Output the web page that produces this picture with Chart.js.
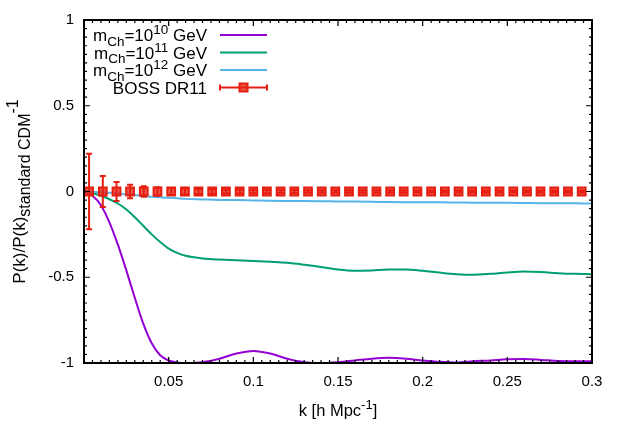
<!DOCTYPE html>
<html>
<head>
<meta charset="utf-8">
<script src="https://cdn.jsdelivr.net/npm/chart.js@4.4.0/dist/chart.umd.min.js"></script>
<style>
  html, body { margin: 0; padding: 0; background: #fff; }
  #wrap { width: 623px; height: 436px; }
</style>
</head>
<body>
<div id="wrap"><canvas id="grafico" width="623" height="436"></canvas></div>
<script>
// grade de k dos modelos (h/Mpc)
const kModelo = [0.001, 0.005, 0.01, 0.015, 0.02, 0.025, 0.03, 0.035, 0.04, 0.045, 0.05, 0.055, 0.06, 0.07, 0.08, 0.09, 0.1, 0.11, 0.12, 0.13, 0.14, 0.15, 0.16, 0.17, 0.18, 0.19, 0.2, 0.21, 0.22, 0.23, 0.24, 0.25, 0.26, 0.27, 0.28, 0.29, 0.3];
const mCh10 = [-0.005, -0.025, -0.08, -0.18, -0.31, -0.46, -0.62, -0.77, -0.885, -0.955, -0.985, -0.997, -1.0, -0.995, -0.975, -0.945, -0.93, -0.945, -0.975, -0.995, -1.0, -0.995, -0.985, -0.975, -0.97, -0.975, -0.985, -0.993, -0.997, -0.99, -0.985, -0.978, -0.977, -0.982, -0.988, -0.99, -0.99];
const mCh11 = [-0.003, -0.01, -0.025, -0.045, -0.07, -0.105, -0.15, -0.2, -0.25, -0.295, -0.333, -0.358, -0.375, -0.39, -0.397, -0.401, -0.405, -0.41, -0.416, -0.427, -0.44, -0.455, -0.462, -0.46, -0.455, -0.455, -0.462, -0.473, -0.482, -0.485, -0.48, -0.472, -0.467, -0.47, -0.476, -0.48, -0.482];
const mCh12 = [0, -0.002, -0.005, -0.008, -0.012, -0.017, -0.021, -0.026, -0.03, -0.034, -0.037, -0.04, -0.043, -0.046, -0.049, -0.05, -0.052, -0.054, -0.055, -0.056, -0.057, -0.058, -0.059, -0.06, -0.061, -0.062, -0.063, -0.063, -0.064, -0.065, -0.066, -0.066, -0.067, -0.068, -0.068, -0.069, -0.07];

// pontos BOSS DR11
const kBoss = [0.003, 0.0111, 0.0192, 0.0272, 0.0353, 0.0434, 0.0515, 0.0596, 0.0676, 0.0757, 0.0838, 0.0919, 0.1, 0.108, 0.1161, 0.1242, 0.1323, 0.1404, 0.1484, 0.1565, 0.1646, 0.1727, 0.1808, 0.1888, 0.1969, 0.205, 0.2131, 0.2212, 0.2292, 0.2373, 0.2454, 0.2535, 0.2616, 0.2696, 0.2777, 0.2858, 0.2939];
const pBoss = [0, 0, 0, 0, 0, 0, 0, 0, 0, 0, 0, 0, 0, 0, 0, 0, 0, 0, 0, 0, 0, 0, 0, 0, 0, 0, 0, 0, 0, 0, 0, 0, 0, 0, 0, 0, 0];
const erroBoss = [0.22, 0.09, 0.055, 0.04, 0.031, 0.025, 0.02, 0.017, 0.015, 0.013, 0.012, 0.011, 0.01, 0.01, 0.009, 0.009, 0.008, 0.008, 0.008, 0.007, 0.007, 0.007, 0.007, 0.007, 0.006, 0.006, 0.006, 0.006, 0.006, 0.006, 0.006, 0.006, 0.006, 0.006, 0.006, 0.006, 0.006];

const xTicks = [0.05, 0.1, 0.15, 0.2, 0.25, 0.3];
const yTicks = [-1, -0.5, 0, 0.5, 1];

const roxo = '#9400d3', verde = '#009e73', azul = '#56b4e9', vermelho = '#e51e10';
const FAM = '"Liberation Sans", Arial, Helvetica, sans-serif';

function pares(xs, ys) { return xs.map((x, i) => ({ x: x, y: ys[i] })); }

// texto com sub/sobrescrito; tam = [normal, pequeno]
function textoRico(ctx, partes, x, y, alinhar, tam) {
  const fonte = p => (p.s ? tam[1] : tam[0]) + 'px ' + FAM;
  const larg = partes.map(p => { ctx.font = fonte(p); return ctx.measureText(p.t).width; });
  const total = larg.reduce((a, b) => a + b, 0);
  let cx = alinhar === 'right' ? x - total : alinhar === 'center' ? x - total / 2 : x;
  ctx.textAlign = 'left';
  ctx.textBaseline = 'alphabetic';
  partes.forEach((p, i) => {
    ctx.font = fonte(p);
    const dy = p.s === 'sub' ? tam[0] * 0.27 : p.s === 'sup' ? -tam[0] * 0.4 : 0;
    ctx.fillText(p.t, cx, y + dy);
    cx += larg[i];
  });
}

const legenda = [
  { cor: roxo, partes: [{ t: 'm' }, { t: 'Ch', s: 'sub' }, { t: '=10' }, { t: '10', s: 'sup' }, { t: ' GeV' }] },
  { cor: verde, partes: [{ t: 'm' }, { t: 'Ch', s: 'sub' }, { t: '=10' }, { t: '11', s: 'sup' }, { t: ' GeV' }] },
  { cor: azul, partes: [{ t: 'm' }, { t: 'Ch', s: 'sub' }, { t: '=10' }, { t: '12', s: 'sup' }, { t: ' GeV' }] },
  { cor: vermelho, boss: true, partes: [{ t: 'BOSS DR11' }] }
];

function quadrado(ctx, x, y) {
  ctx.fillStyle = 'rgba(229,30,16,0.75)';
  ctx.strokeStyle = vermelho;
  ctx.lineWidth = 2;
  ctx.fillRect(x - 4, y - 4, 8, 8);
  ctx.strokeRect(x - 4, y - 4, 8, 8);
}

const pluginGnuplot = {
  id: 'gnuplot',
  beforeDatasetDraw(chart, args) {
    if (args.index !== 3) return;
    const ctx = chart.ctx, sx = chart.scales.x, sy = chart.scales.y;
    ctx.save();
    ctx.strokeStyle = vermelho;
    ctx.lineWidth = 2;
    kBoss.forEach((k, i) => {
      const px = sx.getPixelForValue(k);
      const y1 = sy.getPixelForValue(pBoss[i] + erroBoss[i]);
      const y2 = sy.getPixelForValue(pBoss[i] - erroBoss[i]);
      ctx.beginPath();
      ctx.moveTo(px, y1); ctx.lineTo(px, y2);
      ctx.moveTo(px - 3, y1); ctx.lineTo(px + 3, y1);
      ctx.moveTo(px - 3, y2); ctx.lineTo(px + 3, y2);
      ctx.stroke();
    });
    ctx.restore();
  },
  afterDraw(chart) {
    const ctx = chart.ctx, a = chart.chartArea, sx = chart.scales.x, sy = chart.scales.y;
    ctx.save();
    // moldura e marcas para dentro
    ctx.strokeStyle = '#000';
    ctx.lineWidth = 2;
    ctx.strokeRect(a.left, a.top, a.right - a.left, a.bottom - a.top);
    ctx.lineWidth = 1.2;
    ctx.beginPath();
    for (let i = 1; i < 60; i++) {
      const px = sx.getPixelForValue(i * 0.005);
      const len = i % 10 === 0 ? 6 : 3;
      ctx.moveTo(px, a.bottom); ctx.lineTo(px, a.bottom - len);
      ctx.moveTo(px, a.top); ctx.lineTo(px, a.top + len);
    }
    for (let i = -19; i < 20; i++) {
      const py = sy.getPixelForValue(i * 0.05);
      const len = i % 10 === 0 ? 6 : 3;
      ctx.moveTo(a.left, py); ctx.lineTo(a.left + len, py);
      ctx.moveTo(a.right, py); ctx.lineTo(a.right - len, py);
    }
    ctx.stroke();

    // legenda
    legenda.forEach((item, i) => {
      const yc = 35 + i * 17.5;
      ctx.fillStyle = '#000';
      textoRico(ctx, item.partes, 207, yc + 6, 'right', [17, 13.5]);
      ctx.strokeStyle = item.cor;
      ctx.lineWidth = 2;
      ctx.beginPath();
      ctx.moveTo(220, yc); ctx.lineTo(267, yc);
      if (item.boss) {
        ctx.moveTo(220, yc - 3); ctx.lineTo(220, yc + 3);
        ctx.moveTo(267, yc - 3); ctx.lineTo(267, yc + 3);
      }
      ctx.stroke();
      if (item.boss) quadrado(ctx, 243.5, yc);
    });

    // titulos dos eixos
    ctx.fillStyle = '#000';
    textoRico(ctx, [{ t: 'k [h Mpc' }, { t: '-1', s: 'sup' }, { t: ']' }], (a.left + a.right) / 2, 416, 'center', [16.5, 13]);
    ctx.translate(20, (a.top + a.bottom) / 2);
    ctx.rotate(-Math.PI / 2);
    textoRico(ctx, [{ t: 'P(k)/P(k)' }, { t: 'standard CDM', s: 'sub' }, { t: '-1', s: 'sup' }], 0, 5, 'center', [17, 16]);
    ctx.restore();
  }
};

const fonteTicks = { family: FAM, size: 15 };

new Chart(document.getElementById('grafico'), {
  type: 'line',
  data: {
    datasets: [
      { label: 'mCh=10^10 GeV', data: pares(kModelo, mCh10), borderColor: roxo, borderWidth: 2, pointRadius: 0, cubicInterpolationMode: 'monotone', order: 3 },
      { label: 'mCh=10^11 GeV', data: pares(kModelo, mCh11), borderColor: verde, borderWidth: 2, pointRadius: 0, cubicInterpolationMode: 'monotone', order: 2 },
      { label: 'mCh=10^12 GeV', data: pares(kModelo, mCh12), borderColor: azul, borderWidth: 2, pointRadius: 0, cubicInterpolationMode: 'monotone', order: 1 },
      { label: 'BOSS DR11', data: pares(kBoss, pBoss), showLine: false, pointStyle: 'rect', pointRadius: 5.5, borderWidth: 2, borderColor: vermelho, backgroundColor: 'rgba(229,30,16,0.75)', order: 0 }
    ]
  },
  options: {
    responsive: false,
    animation: false,
    events: [],
    layout: { padding: { top: 20, right: 31, left: 0, bottom: 0 } },
    plugins: { legend: { display: false }, tooltip: { enabled: false } },
    scales: {
      x: {
        type: 'linear', min: 0, max: 0.3,
        afterBuildTicks: s => { s.ticks = xTicks.map(v => ({ value: v })); },
        afterFit: s => { s.height = 73; },
        grid: { display: false, drawTicks: false },
        border: { display: false },
        ticks: { font: fonteTicks, color: '#000', padding: 10, maxRotation: 0, callback: v => String(v) }
      },
      y: {
        type: 'linear', min: -1, max: 1,
        afterBuildTicks: s => { s.ticks = yTicks.map(v => ({ value: v })); },
        afterFit: s => { s.width = 84; },
        grid: { display: false, drawTicks: false },
        border: { display: false },
        ticks: { font: fonteTicks, color: '#000', padding: 10, callback: v => String(v) }
      }
    }
  },
  plugins: [pluginGnuplot]
});
</script>
</body>
</html>
